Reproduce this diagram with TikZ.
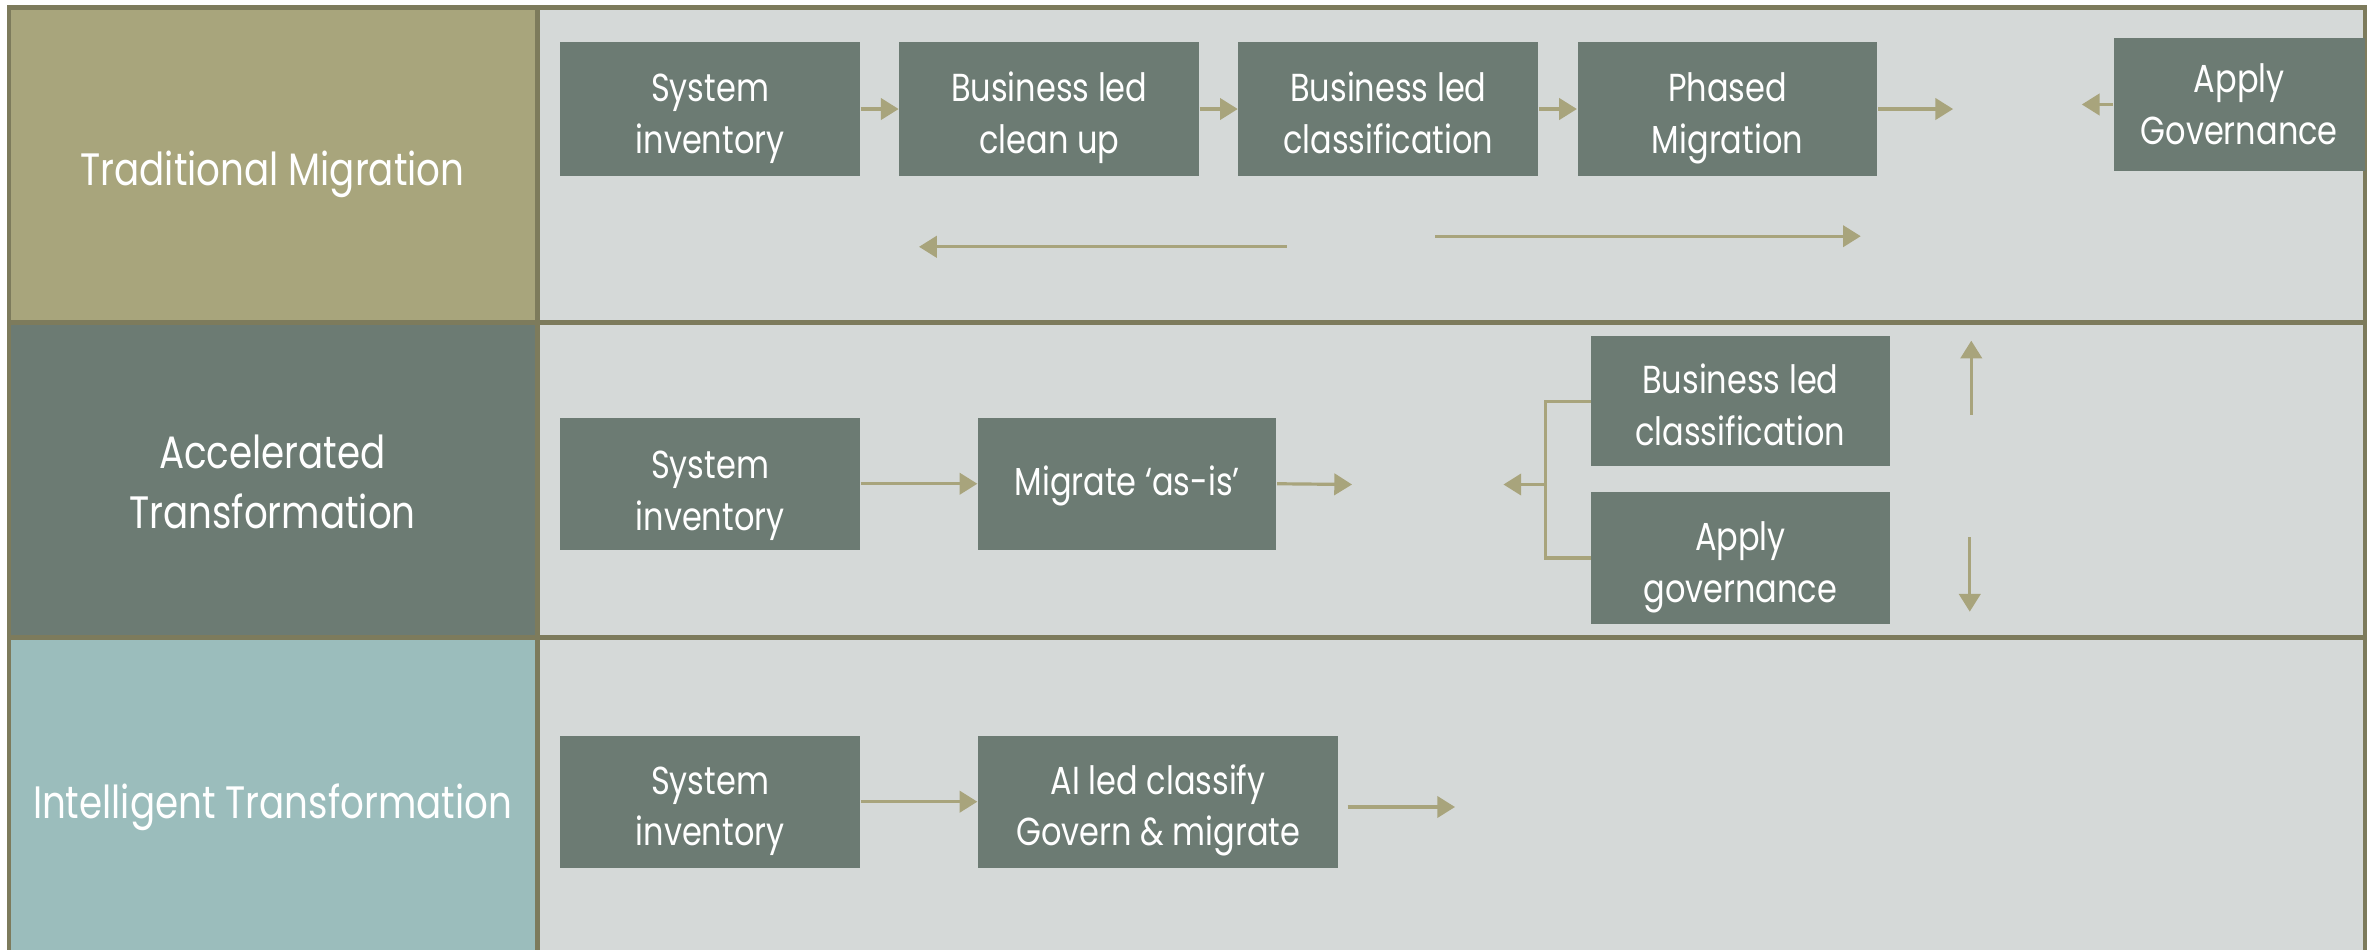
\documentclass[tikz,border=0pt]{standalone}
\usepackage{fontspec}
\setmainfont[FakeStretch=0.82]{Poppins}
\usetikzlibrary{arrows.meta}
\definecolor{khaki}{HTML}{A8A57C}
\definecolor{sage}{HTML}{6C7B73}
\definecolor{teal}{HTML}{9BBDBC}
\definecolor{panel}{HTML}{D5D9D8}
\definecolor{frame}{HTML}{7D7B5C}
\definecolor{arr}{HTML}{A8A47C}
\newcommand{\bt}[2][-2.3pt]{\raisebox{#1}[\height][\depth]{\begin{tabular}{@{}c@{}}#2\end{tabular}}}
\tikzset{
  cell/.style={draw=frame, line width=1.3pt},
  lbl/.style={text=white, font=\fontsize{12.8}{17}\selectfont, inner sep=0pt},
  stepbox/.style={fill=sage, text=white, font=\fontsize{11}{14.5}\selectfont, inner sep=0pt},
  flow/.style={draw=arr, line width=0.9pt, -{Triangle[length=5pt,width=6pt]}},
  plain/.style={draw=arr, line width=0.9pt}
}
\begin{document}
\begin{tikzpicture}[x=0.015cm,y=-0.015cm]
\useasboundingbox (0,0) rectangle (1568,627);
\fill[white] (0,0) rectangle (1568,627);
% left column
\filldraw[cell, fill=khaki] (6,5) rectangle (355,213);
\filldraw[cell, fill=sage] (6,213) rectangle (355,421);
\filldraw[cell, fill=teal] (6,421) rectangle (355,640);
% right panels
\filldraw[cell, fill=panel] (355,5) rectangle (1562,213);
\filldraw[cell, fill=panel] (355,213) rectangle (1562,421);
\filldraw[cell, fill=panel] (355,421) rectangle (1562,640);

\node[lbl] (l1) at (180,111) {\bt[-1.5pt]{Traditional Migration}};
\node[lbl] (l2) at (180,319) {\bt[-1pt]{Accelerated\\Transformation}};
\node[lbl] (l3) at (180,529) {\bt[-1.5pt]{Intelligent Transformation}};

% Row 1
\node[stepbox, minimum width=2.97cm, minimum height=1.32cm] (a1) at (469,72) {\bt{System\\inventory}};
\node[stepbox, minimum width=2.97cm, minimum height=1.32cm] (a2) at (693,72) {\bt{Business led\\clean up}};
\node[stepbox, minimum width=2.97cm, minimum height=1.32cm] (a3) at (917,72) {\bt{Business led\\classification}};
\node[stepbox, minimum width=2.97cm, minimum height=1.32cm] (a4) at (1141,72) {\bt{Phased\\Migration}};
\node[stepbox, minimum width=2.49cm, minimum height=1.32cm] (a5) at (1479,69) {\bt[-1pt]{Apply\\Governance}};
\coordinate (a4e) at (1290,72);
\coordinate (a5e) at (1375,69);
\coordinate (r1s) at (850,163);
\coordinate (r1t) at (607,163);
\coordinate (f1s) at (948,156);
\coordinate (f1t) at (1229,156);
\draw[flow] (a1.east) -- (a2.west);
\draw[flow] (a2.east) -- (a3.west);
\draw[flow] (a3.east) -- (a4.west);
\draw[flow] (a4.east) -- (a4e);
\draw[flow] (a5.west) -- (a5e);
\draw[flow] (r1s) -- (r1t);
\draw[flow] (f1s) -- (f1t);

% Row 2
\node[stepbox, minimum width=2.97cm, minimum height=1.305cm] (b1) at (469,319.5) {\bt[-3pt]{System\\inventory}};
\node[stepbox, minimum width=2.955cm, minimum height=1.305cm] (b2) at (744.5,319.5) {\bt[-0.5pt]{Migrate ‘as-is’}};
\node[stepbox, minimum width=2.955cm, minimum height=1.29cm] (b3) at (1149.5,265) {\bt{Business led\\classification}};
\node[stepbox, minimum width=2.955cm, minimum height=1.305cm] (b4) at (1149.5,368.5) {\bt{Apply\\governance}};
\coordinate (b2e) at (893,320);
\coordinate (j) at (1021,320);
\coordinate (je) at (993,320);
\coordinate (u1) at (1302,274);
\coordinate (u2) at (1302,225);
\coordinate (d1) at (1301,355);
\coordinate (d2) at (1301,404);
\draw[flow] (b1.east) -- (b2.west);
\draw[flow] (b2.east) -- (b2e);
\draw[plain] (b3.west) -| (j) |- (b4.west);
\draw[flow] (j) -- (je);
\draw[flow] (u1) -- (u2);
\draw[flow] (d1) -- (d2);

% Row 3
\node[stepbox, minimum width=2.97cm, minimum height=1.305cm] (c1) at (469,529.5) {\bt{System\\inventory}};
\node[stepbox, minimum width=3.57cm, minimum height=1.305cm] (c2) at (765,529.5) {\bt{AI led classify\\Govern \& migrate}};
\coordinate (c2s) at (890,533);
\coordinate (c2e) at (961,533);
\draw[flow] (c1.east) -- (c2.west);
\draw[flow] (c2s) -- (c2e);
\end{tikzpicture}
\end{document}
